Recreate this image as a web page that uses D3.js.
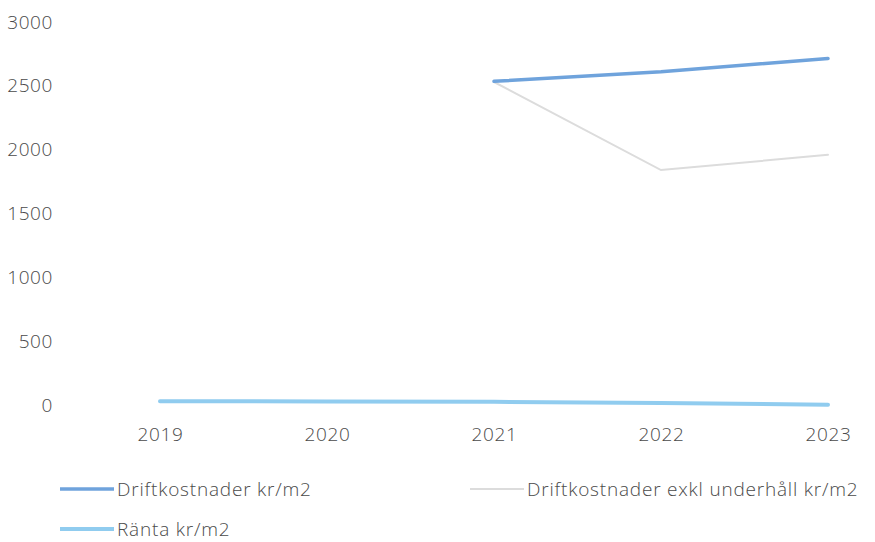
<!DOCTYPE html>
<html>
<head>
<meta charset="utf-8">
<script src="https://cdn.jsdelivr.net/npm/d3@7"></script>
<style>
  body { margin: 0; background: white; }
  text { font-family: "Open Sans", "Liberation Sans", sans-serif; fill: #4a4a4a; font-weight: 300; }
</style>
</head>
<body>
<div id="chart"></div>
<script>
  const years = ["2019", "2020", "2021", "2022", "2023"];
  const drift = [null, null, 2535, 2610, 2715];
  const driftExkl = [null, null, 2530, 1840, 1960];
  const ranta = [30, 28, 25, 15, 2];
  const yTicks = [0, 500, 1000, 1500, 2000, 2500, 3000];

  const seriesNames = ["Driftkostnader kr/m2", "Driftkostnader exkl underhåll kr/m2", "Ränta kr/m2"];
  const colors = ["#6fa3dc", "#dcdcdc", "#90ccef"];

  const w = 875, h = 542;
  let svg = d3.select("#chart").append("svg")
      .attr("width", w)
      .attr("height", h);

  const x = d3.scalePoint().domain(years).range([160, 828]);
  const y = d3.scaleLinear().domain([0, 3000]).range([405, 22]);

  //y labels
  svg.append("g")
      .attr("transform", "translate(53,0)")
      .call(d3.axisLeft(y).tickValues(yTicks).tickFormat(d3.format("d")).tickSize(0).tickPadding(0))
      .call(g => g.select(".domain").remove())
      .selectAll("text")
      .style("font-size", "19px")
      .style("font-family", "'Open Sans', sans-serif")
      .style("letter-spacing", "0.6px")
      .attr("fill", "#4a4a4a");

  //x labels
  svg.append("g")
      .attr("transform", "translate(0,434)")
      .call(d3.axisBottom(x).tickSize(0).tickPadding(0))
      .call(g => g.select(".domain").remove())
      .selectAll("text")
      .attr("dy", "0.35em")
      .style("font-size", "19px")
      .style("font-family", "'Open Sans', sans-serif")
      .style("letter-spacing", "0.6px")
      .attr("fill", "#4a4a4a");

  const line = d3.line()
      .defined(d => d.v != null)
      .x(d => x(d.year))
      .y(d => y(d.v));

  const allSeries = [drift, driftExkl, ranta];
  const widths = [3.5, 2, 4];
  // draw exkl first so the blue line sits on top
  [1, 0, 2].forEach(i => {
    let pts = years.map((yr, j) => ({year: yr, v: allSeries[i][j]}));
    svg.append("path")
      .datum(pts)
      .attr("fill", "none")
      .attr("stroke", colors[i])
      .attr("stroke-width", widths[i])
      .attr("stroke-linecap", "round")
      .attr("d", line);
  });

  //legend
  const legendPos = [[60, 489], [470, 489], [60, 529]];
  seriesNames.forEach((name, i) => {
    let g = svg.append("g").attr("transform", `translate(${legendPos[i][0]},${legendPos[i][1]})`);
    g.append("line")
      .attr("x1", 0).attr("x2", 54)
      .attr("y1", 0).attr("y2", 0)
      .attr("stroke", colors[i])
      .attr("stroke-width", widths[i]);
    g.append("text")
      .attr("x", 57)
      .attr("y", 0)
      .attr("dy", "0.35em")
      .style("font-size", "19px")
      .style("letter-spacing", "0.8px")
      .text(name);
  });
</script>
</body>
</html>
